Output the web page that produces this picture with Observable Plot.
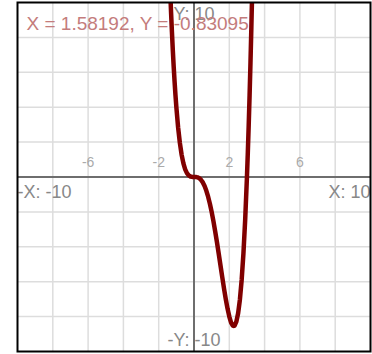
<!DOCTYPE html>
<html>
<head>
<meta charset="utf-8">
<script src="https://cdn.jsdelivr.net/npm/d3@7"></script>
<script src="https://cdn.jsdelivr.net/npm/@observablehq/plot@0.6"></script>
<style>
  html, body { margin: 0; padding: 0; background: #fff; }
</style>
</head>
<body>
<div id="chart"></div>
<script>
// Sampled points of the plotted curve
const curveX = [-1.4, -1.35, -1.3, -1.25, -1.2, -1.15, -1.1, -1.05, -1.0, -0.9, -0.8, -0.7, -0.6, -0.5, -0.4, -0.3, -0.2, -0.1, 0,
  0.1, 0.2, 0.3, 0.4, 0.5, 0.6, 0.7, 0.8, 0.9, 1.0, 1.1, 1.2, 1.3, 1.4, 1.5, 1.6, 1.7, 1.8, 1.9, 2.0, 2.1, 2.2, 2.25, 2.3, 2.4,
  2.5, 2.6, 2.7, 2.8, 2.9, 3.0, 3.05, 3.1, 3.15, 3.2, 3.25, 3.3, 3.35];
const curveY = [12.07, 10.70, 9.45, 8.30, 7.26, 6.31, 5.46, 4.69, 4.0, 2.84, 1.95, 1.27, 0.78, 0.44, 0.22, 0.09, 0.03, 0.003, 0,
  -0.003, -0.02, -0.07, -0.17, -0.31, -0.52, -0.79, -1.13, -1.53, -2.0, -2.53, -3.11, -3.73, -4.39, -5.06, -5.73, -6.39, -7.0, -7.54, -8.0, -8.34, -8.52, -8.54, -8.52, -8.29,
  -7.81, -7.03, -5.9, -4.39, -2.44, 0, 1.42, 2.98, 4.69, 6.55, 8.58, 10.78, 13.16];

// Grid lines, numbered ticks and axis end labels
const gridTicks = [-8, -6, -4, -2, 2, 4, 6, 8];
const xTickLabels = [-6, -2, 2, 6];
const xMinLabel = ["-X: -10"];
const xMaxLabel = ["X: 10"];
const yMaxLabel = ["Y: 10"];
const yMinLabel = ["-Y: -10"];
const readout = ["X = 1.58192, Y = -0.83095"];

const points = curveX.map((x, i) => ({x, y: curveY[i]}));
const font = "'Liberation Sans', Arial, sans-serif";
const axisText = {fill: "#888888", fontSize: 18, fontFamily: font};

const chart = Plot.plot({
  width: 372,
  height: 354,
  marginLeft: 17,
  marginRight: 2,
  marginTop: 2,
  marginBottom: 3,
  style: {background: "white", fontFamily: font},
  x: {domain: [-10, 10], axis: null},
  y: {domain: [-10, 10], axis: null},
  marks: [
    Plot.ruleX(gridTicks, {stroke: "#dddddd", strokeWidth: 1.5}),
    Plot.ruleY(gridTicks, {stroke: "#dddddd", strokeWidth: 1.5}),
    Plot.ruleX([0], {stroke: "#6e6e6e", strokeWidth: 2}),
    Plot.ruleY([0], {stroke: "#6e6e6e", strokeWidth: 2}),
    Plot.text(xTickLabels, {x: d => d, y: 0, dy: -14, text: d => String(d), fill: "#aaaaaa", fontSize: 14, fontFamily: font}),
    Plot.text(xMinLabel, {x: -10, y: 0, dy: 15, text: d => d, textAnchor: "start", ...axisText}),
    Plot.text(xMaxLabel, {x: 10, y: 0, dy: 15, text: d => d, textAnchor: "end", ...axisText}),
    Plot.line(points, {x: "x", y: "y", stroke: "#800000", strokeWidth: 4.5, clip: true, strokeLinejoin: "round", strokeLinecap: "round"}),
    Plot.text(yMaxLabel, {x: 0, y: 10, dy: 12, text: d => d, ...axisText}),
    Plot.text(yMinLabel, {x: 0, y: -10, dy: -11, text: d => d, ...axisText}),
    Plot.text(readout, {frameAnchor: "top-left", dx: 9, dy: 14, lineAnchor: "top", textAnchor: "start", fill: "#c47c7c", fontSize: 19, fontFamily: font}),
    Plot.frame({stroke: "black", strokeWidth: 2})
  ]
});
document.getElementById("chart").appendChild(chart);
</script>
</body>
</html>
